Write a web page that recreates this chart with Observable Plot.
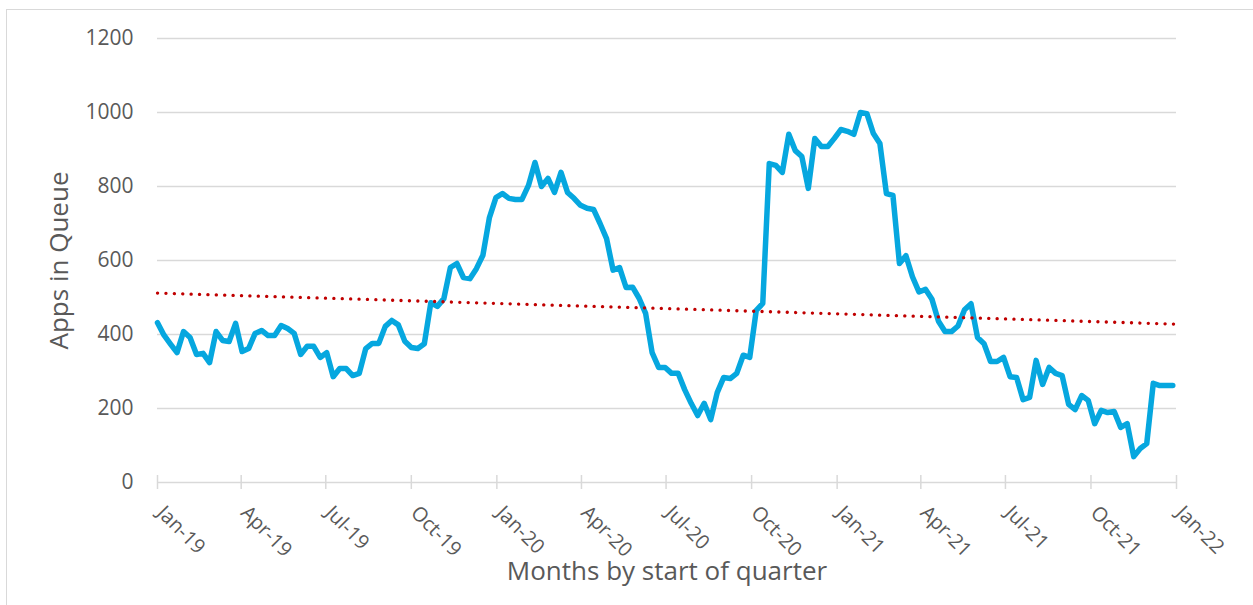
<!DOCTYPE html>
<html>
<head>
<meta charset="utf-8">
<script src="https://cdn.jsdelivr.net/npm/d3@7"></script>
<script src="https://cdn.jsdelivr.net/npm/@observablehq/plot@0.6"></script>
<style>
  html, body { margin: 0; padding: 0; background: #fff; overflow: hidden; }
  #frame { position: absolute; left: 6px; top: 9px; width: 1270px; height: 620px; border: 1px solid #d9d9d9; box-sizing: border-box; }
  #chart { position: absolute; left: 0; top: 0; }
</style>
</head>
<body>
<div id="frame"></div>
<div id="chart"></div>
<script>
// Weekly series, starting the first week of January 2019
const startDate = "2019-01-01";
const appsInQueue = [
  432, 398, 374, 351, 408, 392, 346, 349, 324, 408,
  384, 381, 430, 354, 362, 403, 411, 397, 397, 424,
  416, 403, 346, 368, 368, 338, 351, 286, 308, 308,
  289, 295, 362, 376, 376, 422, 438, 426, 382, 365,
  362, 375, 486, 476, 497, 581, 592, 554, 551, 578,
  614, 716, 770, 781, 768, 765, 765, 803, 865, 800,
  822, 784, 838, 784, 768, 749, 741, 738, 700, 659,
  574, 581, 527, 528, 498, 457, 351, 311, 311, 295,
  295, 251, 214, 181, 214, 170, 243, 284, 281, 295,
  344, 338, 465, 484, 862, 857, 838, 941, 897, 881,
  795, 930, 908, 908, 930, 954, 949, 941, 1000, 997,
  943, 916, 781, 776, 592, 613, 556, 515, 522, 495,
  436, 408, 408, 423, 467, 483, 392, 375, 327, 327,
  338, 286, 284, 224, 230, 330, 265, 311, 295, 289,
  211, 197, 235, 222, 159, 195, 189, 192, 149, 159,
  70, 92, 105, 268, 262, 262, 262
];
const quarterTicks = [
  "2019-01-01", "2019-04-01", "2019-07-01", "2019-10-01",
  "2020-01-01", "2020-04-01", "2020-07-01", "2020-10-01",
  "2021-01-01", "2021-04-01", "2021-07-01", "2021-10-01",
  "2022-01-01"
];
const yTicks = [0, 200, 400, 600, 800, 1000, 1200];
const trendDates = ["2019-01-01", "2022-01-01"];
const trendValues = [512, 428];
const yTitle = "Apps in Queue";
const xTitle = "Months by start of quarter";

const t0 = new Date(startDate);
const series = appsInQueue.map((v, i) => ({date: new Date(t0.getTime() + i * 7 * 864e5), value: v}));
const trend = trendDates.map((d, i) => ({date: new Date(d), value: trendValues[i]}));
const qDates = quarterTicks.map(d => new Date(d));
const fmt = d3.utcFormat("%b-%y");

const font = "'Open Sans', 'Liberation Sans', sans-serif";
const gray = "#595959";

const chart = Plot.plot({
  width: 1253,
  height: 605,
  marginLeft: 157,
  marginRight: 77,
  marginTop: 38,
  marginBottom: 123,
  style: {fontFamily: font, fontSize: "20px", color: gray, background: "transparent", overflow: "visible"},
  x: {type: "utc", domain: [new Date(quarterTicks[0]), new Date(quarterTicks[quarterTicks.length - 1])]},
  y: {domain: [0, 1200]},
  marks: [
    Plot.gridY(yTicks.filter(d => d > 0), {stroke: "#d9d9d9", strokeOpacity: 1, strokeWidth: 1.5}),
    Plot.ruleY([0], {stroke: "#d9d9d9", strokeWidth: 1.5}),
    Plot.ruleX(qDates, {x: d => d, y1: () => 0, y2: () => 0, insetTop: 7, insetBottom: 7, stroke: "#d9d9d9", strokeWidth: 1.5}),
    Plot.axisY({ticks: yTicks, tickSize: 0, tickPadding: 24, label: null, fontSize: 21, fill: gray, tickFormat: d => String(d)}),
    Plot.axisX({ticks: qDates, tickSize: 0, tickPadding: 27, tickRotate: 45, dx: 3, label: null, fontSize: 20, fill: gray, tickFormat: fmt}),
    Plot.line(series, {x: "date", y: "value", stroke: "#06a7df", strokeWidth: 5.5, strokeLinejoin: "round", strokeLinecap: "round"}),
    Plot.line(trend, {x: "date", y: "value", stroke: "#c00000", strokeWidth: 3.3, strokeDasharray: "0.1,8.3", strokeLinecap: "round"}),
    Plot.text([yTitle], {text: d => d, frameAnchor: "left", textAnchor: "middle", dx: -98, rotate: -90, fontSize: 26, fill: gray}),
    Plot.text([xTitle], {text: d => d, frameAnchor: "bottom", textAnchor: "middle", dy: 97, fontSize: 26, fill: gray})
  ]
});
document.getElementById("chart").appendChild(chart);
</script>
</body>
</html>
